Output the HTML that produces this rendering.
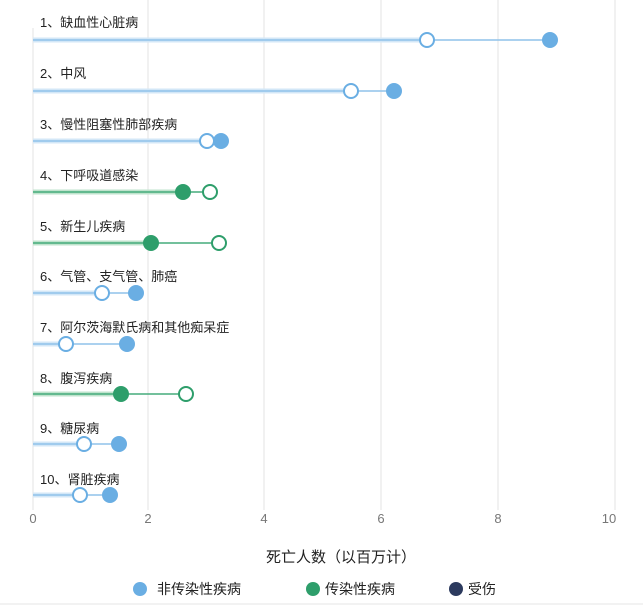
<!DOCTYPE html>
<html><head><meta charset="utf-8"><style>
body{margin:0;background:#fff;}
svg{display:block;font-family:"Liberation Sans","Noto Sans CJK SC",sans-serif;}
</style></head><body>
<svg width="643" height="609" viewBox="0 0 643 609">
<g stroke="#e3e3e3" stroke-width="1">
<line x1="33" y1="28" x2="33" y2="510"/>
<line x1="148" y1="0" x2="148" y2="510"/>
<line x1="264" y1="0" x2="264" y2="510"/>
<line x1="381" y1="0" x2="381" y2="510"/>
<line x1="498" y1="0" x2="498" y2="510"/>
<line x1="615" y1="0" x2="615" y2="510"/>
</g>
<g font-size="13" fill="#777" text-anchor="middle">
<text x="33" y="523">0</text><text x="148" y="523">2</text><text x="264" y="523">4</text>
<text x="381" y="523">6</text><text x="498" y="523">8</text><text x="609" y="523">10</text>
</g>
<text x="341" y="562" font-size="15" fill="#222" text-anchor="middle">死亡人数（以百万计）</text>
<g font-size="14" fill="#222">
<circle cx="140" cy="589" r="7" fill="#6aaee3"/><text x="157" y="594">非传染性疾病</text>
<circle cx="313" cy="589" r="7" fill="#2e9e6b"/><text x="325" y="594">传染性疾病</text>
<circle cx="456" cy="589" r="7" fill="#2c3a5e"/><text x="468" y="594">受伤</text>
</g>
<line x1="0" y1="604" x2="643" y2="604" stroke="#e6e6e6"/>
<g font-size="13" fill="#222">
<text x="40" y="27">1、缺血性心脏病</text>
<text x="40" y="78">2、中风</text>
<text x="40" y="129">3、慢性阻塞性肺部疾病</text>
<text x="40" y="180">4、下呼吸道感染</text>
<text x="40" y="231">5、新生儿疾病</text>
<text x="40" y="281">6、气管、支气管、肺癌</text>
<text x="40" y="332">7、阿尔茨海默氏病和其他痴呆症</text>
<text x="40" y="383">8、腹泻疾病</text>
<text x="40" y="433">9、糖尿病</text>
<text x="40" y="484">10、肾脏疾病</text>
</g>
<g stroke="#d3e7f7" stroke-width="5">
<line x1="33" y1="40" x2="427" y2="40"/><line x1="33" y1="91" x2="351" y2="91"/>
<line x1="33" y1="141" x2="207" y2="141"/><line x1="33" y1="293" x2="102" y2="293"/>
<line x1="33" y1="344" x2="66" y2="344"/><line x1="33" y1="444" x2="84" y2="444"/>
<line x1="33" y1="495" x2="80" y2="495"/>
</g>
<g stroke="#8fc2ea" stroke-width="1.5">
<line x1="33" y1="40" x2="550" y2="40"/><line x1="33" y1="91" x2="394" y2="91"/>
<line x1="33" y1="141" x2="221" y2="141"/><line x1="33" y1="293" x2="136" y2="293"/>
<line x1="33" y1="344" x2="127" y2="344"/><line x1="33" y1="444" x2="119" y2="444"/>
<line x1="33" y1="495" x2="110" y2="495"/>
</g>
<g fill="#fff" stroke="#6aaee3" stroke-width="2">
<circle cx="427" cy="40" r="7"/><circle cx="351" cy="91" r="7"/><circle cx="207" cy="141" r="7"/>
<circle cx="102" cy="293" r="7"/><circle cx="66" cy="344" r="7"/><circle cx="84" cy="444" r="7"/><circle cx="80" cy="495" r="7"/>
</g>
<g fill="#6aaee3">
<circle cx="550" cy="40" r="8"/><circle cx="394" cy="91" r="8"/><circle cx="221" cy="141" r="8"/>
<circle cx="136" cy="293" r="8"/><circle cx="127" cy="344" r="8"/><circle cx="119" cy="444" r="8"/><circle cx="110" cy="495" r="8"/>
</g>
<g stroke="#bfe3cc" stroke-width="5">
<line x1="33" y1="192" x2="183" y2="192"/><line x1="33" y1="243" x2="151" y2="243"/><line x1="33" y1="394" x2="121" y2="394"/>
</g>
<g stroke="#45ab7b" stroke-width="1.5">
<line x1="33" y1="192" x2="210" y2="192"/><line x1="33" y1="243" x2="219" y2="243"/><line x1="33" y1="394" x2="186" y2="394"/>
</g>
<g fill="#fff" stroke="#2e9e6b" stroke-width="2">
<circle cx="210" cy="192" r="7"/><circle cx="219" cy="243" r="7"/><circle cx="186" cy="394" r="7"/>
</g>
<g fill="#2e9e6b">
<circle cx="183" cy="192" r="8"/><circle cx="151" cy="243" r="8"/><circle cx="121" cy="394" r="8"/>
</g>
</svg>
</body></html>
